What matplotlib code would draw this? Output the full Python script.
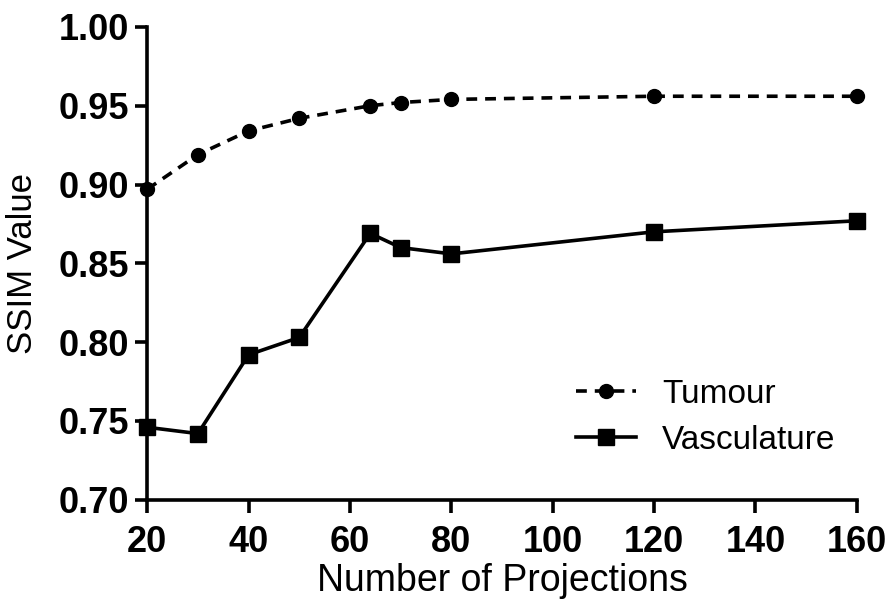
import numpy as np
import matplotlib
matplotlib.use("Agg")
import matplotlib.pyplot as plt

plt.rcParams['font.family'] = ['Liberation Sans', 'DejaVu Sans']

projections = [20, 30, 40, 50, 64, 70, 80, 120, 160]
tumour = [0.897, 0.919, 0.934, 0.942, 0.950, 0.952, 0.954, 0.956, 0.956]
vasculature = [0.746, 0.742, 0.792, 0.803, 0.869, 0.860, 0.856, 0.870, 0.877]

x_ticks = [20, 40, 60, 80, 100, 120, 140, 160]
y_ticks = [0.70, 0.75, 0.80, 0.85, 0.90, 0.95, 1.00]

fig = plt.figure(figsize=(8.87, 6.11), dpi=100)
ax = fig.add_axes([0.166, 0.182, 0.800, 0.774])

ax.plot(projections, tumour, color='black', linestyle=(0, (3, 2.2)), linewidth=2.6,
        marker='o', markersize=10, label='Tumour', clip_on=False, zorder=3)
ax.plot(projections, vasculature, color='black', linestyle='-', linewidth=2.6,
        marker='s', markersize=11, label='Vasculature', clip_on=False, zorder=3)

ax.set_xlim(20, 160)
ax.set_ylim(0.70, 1.00)
ax.set_xticks(x_ticks)
ax.set_yticks(y_ticks)
ax.set_yticklabels([f"{v:.2f}" for v in y_ticks])

for s in ['top', 'right']:
    ax.spines[s].set_visible(False)
for s in ['left', 'bottom']:
    ax.spines[s].set_linewidth(2.6)

ax.tick_params(axis='both', width=2.6, length=9, direction='out', labelsize=26)
ax.tick_params(axis='x', pad=9)
ax.tick_params(axis='y', pad=4)
for lbl in ax.get_xticklabels() + ax.get_yticklabels():
    lbl.set_fontweight('bold')

ax.set_xlabel('Number of Projections', fontsize=27, labelpad=2)
ax.set_ylabel('SSIM Value', fontsize=25, labelpad=14)

ax.legend(loc='center left', bbox_to_anchor=(0.585, 0.175), frameon=False, fontsize=24,
          handlelength=1.8, handletextpad=0.8, labelspacing=0.45, borderaxespad=0)

fig.savefig('out.png', dpi=100)
